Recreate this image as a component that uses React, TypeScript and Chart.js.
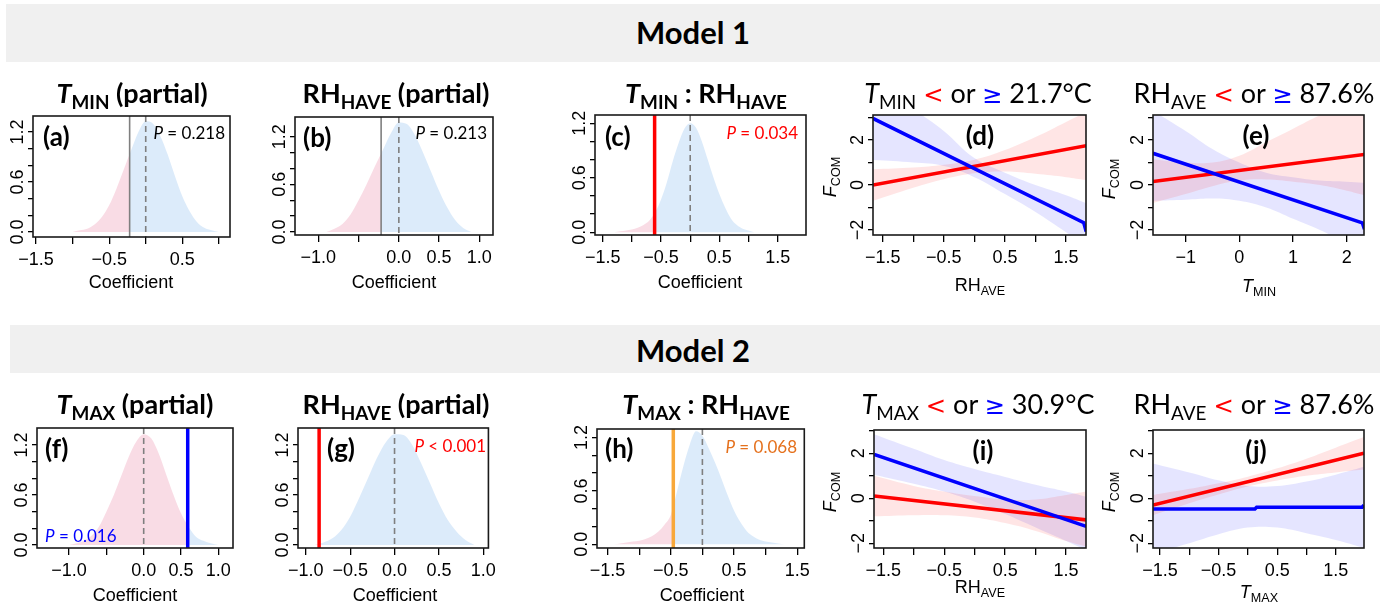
import React, { useEffect, useRef } from 'react';
import { Chart, registerables } from 'chart.js';
Chart.register(...registerables);

const AX_FONT = "'Liberation Sans', Arial, sans-serif";
const CAL = "Lato, 'Open Sans', sans-serif";
const K_CAL = 0.887;
const K_AX = 0.847;

const PINK = '#F9DCE5';
const SKY = '#DCEBFA';
const RED = '#FF0000';
const BLUE = '#0000FF';
const ORANGE_LINE = '#F8A83A';
const ORANGE_TEXT = '#E5711D';
const GREY_LINE = '#7F7F7F';
const BAND_RED = 'rgba(255,0,0,0.10)';
const BAND_BLUE = 'rgba(0,0,255,0.10)';
const CLEAR = 'rgba(0,0,0,0)';

// ---------- shared ticks ----------
const densYTicks = [0, 0.2, 0.4, 0.6, 0.8, 1.0, 1.2];
const densYLabels = ['0.0', '', '', '0.6', '', '', '1.2'];
const fcomYTicks = [-2, -1, 0, 1, 2, 3];
const fcomYLabels = ['−2', '', '0', '', '2', ''];

// ---------- (a) T_MIN partial ----------
const aX = [-1.0, -0.9, -0.8, -0.7, -0.6, -0.5, -0.4, -0.3, -0.2, -0.1, 0.0, 0.1, 0.2, 0.3, 0.4, 0.5, 0.6, 0.7, 0.8, 0.9, 1.0];
const aY = [0.0, 0.02, 0.04, 0.09, 0.18, 0.32, 0.52, 0.75, 0.98, 1.2, 1.33, 1.3, 1.15, 0.93, 0.67, 0.43, 0.25, 0.12, 0.05, 0.02, 0.0];
const aObs = -0.22;
const aXTicks = [-1.5, -1.0, -0.5, 0.0, 0.5, 1.0];
const aXLabels = ['−1.5', '', '−0.5', '', '0.5', ''];

// ---------- (b) RH_HAVE partial ----------
const bX = [-0.9, -0.8, -0.7, -0.6, -0.5, -0.4, -0.3, -0.2, -0.1, 0.0, 0.1, 0.2, 0.3, 0.4, 0.5, 0.6, 0.7, 0.8, 0.9];
const bY = [0.0, 0.04, 0.1, 0.22, 0.4, 0.6, 0.82, 1.03, 1.24, 1.38, 1.36, 1.22, 1.0, 0.76, 0.52, 0.31, 0.15, 0.05, 0.0];
const bObs = -0.22;
const bXTicks = [-1.0, -0.5, 0.0, 0.5, 1.0];
const bXLabels = ['−1.0', '', '0.0', '0.5', '1.0'];

// ---------- (c) T_MIN : RH_HAVE ----------
const cX = [-1.3, -1.2, -1.1, -1.0, -0.9, -0.8, -0.7, -0.6, -0.5, -0.4, -0.3, -0.2, -0.1, 0.0, 0.1, 0.2, 0.3, 0.4, 0.5, 0.6, 0.7, 0.8, 0.9, 1.0, 1.1];
const cY = [0.0, 0.01, 0.02, 0.03, 0.05, 0.08, 0.13, 0.22, 0.36, 0.55, 0.78, 0.98, 1.14, 1.2, 1.15, 1.0, 0.8, 0.6, 0.42, 0.27, 0.15, 0.08, 0.04, 0.02, 0.0];
const cObs = -0.61;
const cXTicks = [-1.5, -1.0, -0.5, 0.0, 0.5, 1.0, 1.5];
const cXLabels = ['−1.5', '', '−0.5', '', '0.5', '', '1.5'];

// ---------- (d) T_MIN split, x = RH_AVE ----------
const dBandX = [-1.66, -1.0, -0.5, 0.0, 0.5, 1.0, 1.5, 1.83];
const dBlueHi = [4.8, 3.4, 2.4, 1.2, 0.55, 0.0, -0.45, -0.8];
const dBlueLo = [1.11, 1.0, 0.85, 0.35, -0.4, -1.2, -2.1, -2.7];
const dRedHi = [0.7, 0.78, 0.9, 1.12, 1.55, 2.13, 2.8, 3.25];
const dRedLo = [-0.7, -0.12, 0.26, 0.52, 0.6, 0.5, 0.35, 0.22];
const dBlueX = [-1.66, 1.79, 1.83];
const dBlueY = [2.96, -1.68, -2.07];
const dRedX = [-1.66, 1.83];
const dRedY = [0.0, 1.75];
const dXTicks = [-1.5, -1.0, -0.5, 0.0, 0.5, 1.0, 1.5];
const dXLabels = ['−1.5', '', '−0.5', '', '0.5', '', '1.5'];

// ---------- (e) RH_AVE split, x = T_MIN ----------
const eBandX = [-1.61, -1.0, -0.5, 0.0, 0.5, 1.0, 1.5, 2.0, 2.33];
const eBlueHi = [3.3, 2.4, 1.6, 1.0, 0.55, 0.35, 0.2, 0.15, 0.1];
const eBlueLo = [-0.7, -0.65, -0.6, -0.7, -1.0, -1.5, -2.0, -2.6, -3.0];
const eRedHi = [1.15, 1.0, 1.0, 1.3, 1.9, 2.5, 3.1, 3.6, 3.9];
const eRedLo = [-0.8, -0.4, -0.05, 0.2, 0.25, 0.15, 0.0, -0.25, -0.45];
const eBlueX = [-1.61, 2.29, 2.33];
const eBlueY = [1.41, -1.68, -1.96];
const eRedX = [-1.61, 2.33];
const eRedY = [0.15, 1.36];
const eXTicks = [-1, 0, 1, 2];
const eXLabels = ['−1', '0', '1', '2'];

// ---------- (f) T_MAX partial ----------
const fX = [-1.0, -0.9, -0.8, -0.7, -0.6, -0.5, -0.4, -0.3, -0.2, -0.1, 0.0, 0.1, 0.2, 0.3, 0.4, 0.5, 0.6, 0.7, 0.8, 0.9, 1.0];
const fY = [0.0, 0.02, 0.05, 0.11, 0.22, 0.4, 0.6, 0.83, 1.06, 1.24, 1.33, 1.28, 1.1, 0.85, 0.6, 0.38, 0.22, 0.1, 0.05, 0.02, 0.0];
const fObs = 0.59;
const fXTicks = [-1.0, -0.5, 0.0, 0.5, 1.0];
const fXLabels = ['−1.0', '', '0.0', '0.5', '1.0'];

// ---------- (g) RH_HAVE partial ----------
const gX = [-0.9, -0.8, -0.7, -0.6, -0.5, -0.4, -0.3, -0.2, -0.1, 0.0, 0.1, 0.2, 0.3, 0.4, 0.5, 0.6, 0.7, 0.8, 0.9];
const gY = [0.0, 0.03, 0.08, 0.18, 0.34, 0.56, 0.8, 1.04, 1.23, 1.33, 1.32, 1.2, 0.98, 0.74, 0.5, 0.3, 0.16, 0.06, 0.0];
const gObs = -0.85;
const gXTicks = [-1.0, -0.5, 0.0, 0.5, 1.0];
const gXLabels = ['−1.0', '−0.5', '0.0', '0.5', '1.0'];

// ---------- (h) T_MAX : RH_HAVE ----------
const hX = [-1.4, -1.3, -1.2, -1.1, -1.0, -0.9, -0.8, -0.7, -0.6, -0.5, -0.4, -0.3, -0.2, -0.1, 0.0, 0.1, 0.2, 0.3, 0.4, 0.5, 0.6, 0.7, 0.8, 0.9, 1.0, 1.1, 1.2, 1.3];
const hY = [0.0, 0.01, 0.02, 0.03, 0.04, 0.06, 0.09, 0.14, 0.22, 0.33, 0.6, 0.88, 1.12, 1.27, 1.22, 1.08, 0.92, 0.74, 0.55, 0.38, 0.25, 0.15, 0.09, 0.05, 0.03, 0.02, 0.01, 0.0];
const hObs = -0.46;
const hXTicks = [-1.5, -1.0, -0.5, 0.0, 0.5, 1.0, 1.5];
const hXLabels = ['−1.5', '', '−0.5', '', '0.5', '', '1.5'];

// ---------- (i) T_MAX split, x = RH_AVE ----------
const iBandX = [-1.65, -1.0, -0.5, 0.0, 0.5, 1.0, 1.5, 1.83];
const iBlueHi = [2.85, 2.2, 1.7, 1.3, 0.95, 0.6, 0.3, 0.07];
const iBlueLo = [1.05, 0.65, 0.3, -0.15, -0.7, -1.3, -1.9, -2.3];
const iRedHi = [1.0, 0.55, 0.3, 0.1, -0.05, -0.05, 0.15, 0.3];
const iRedLo = [-0.8, -0.75, -0.75, -0.85, -1.1, -1.45, -1.9, -2.15];
const iBlueX = [-1.65, 1.83];
const iBlueY = [1.95, -1.25];
const iRedX = [-1.65, 1.83];
const iRedY = [0.1, -0.96];
const iXTicks = [-1.5, -1.0, -0.5, 0.0, 0.5, 1.0, 1.5];
const iXLabels = ['−1.5', '', '−0.5', '', '0.5', '', '1.5'];

// ---------- (j) RH_AVE split, x = T_MAX ----------
const jBandX = [-1.62, -1.0, -0.5, 0.0, 0.5, 1.0, 1.5, 1.98];
const jBlueHi = [1.55, 1.15, 0.8, 0.55, 0.55, 0.75, 1.05, 1.4];
const jBlueLo = [-2.45, -2.0, -1.6, -1.3, -1.3, -1.55, -1.85, -2.2];
const jRedHi = [0.15, 0.42, 0.67, 0.96, 1.33, 1.76, 2.25, 2.72];
const jRedLo = [-0.75, -0.22, 0.17, 0.52, 0.79, 1.0, 1.15, 1.28];
const jBlueX = [-1.62, 0.12, 0.15, 1.95, 1.98];
const jBlueY = [-0.48, -0.48, -0.4, -0.4, -0.3];
const jRedX = [-1.62, 1.98];
const jRedY = [-0.3, 2.0];
const jXTicks = [-1.5, -1.0, -0.5, 0.0, 0.5, 1.0, 1.5];
const jXLabels = ['−1.5', '', '−0.5', '', '0.5', '', '1.5'];

// ---------- layout ----------
const LW = 44, RP = 8, TP = 8, BH = 40;

const PANELS: any[] = [
  { key: 'a', kind: 'dens', box: { l: 33, t: 116, r: 230, b: 237 }, xMin: -1.541, xMax: 1.152, yMin: -0.06, yMax: 1.392, xTicks: aXTicks, xLabels: aXLabels, densX: aX, densY: aY, obs: aObs, obsColor: GREY_LINE, obsWidth: 1.6 },
  { key: 'b', kind: 'dens', box: { l: 295, t: 117, r: 493, b: 235 }, xMin: -1.29, xMax: 1.17, yMin: -0.038, yMax: 1.448, xTicks: bXTicks, xLabels: bXLabels, densX: bX, densY: bY, obs: bObs, obsColor: GREY_LINE, obsWidth: 1.6 },
  { key: 'c', kind: 'dens', box: { l: 595, t: 115, r: 806, b: 235 }, xMin: -1.632, xMax: 1.985, yMin: -0.03, yMax: 1.291, xTicks: cXTicks, xLabels: cXLabels, densX: cX, densY: cY, obs: cObs, obsColor: RED, obsWidth: 3.5 },
  { key: 'd', kind: 'line', box: { l: 873, t: 115, r: 1086, b: 235 }, xMin: -1.659, xMax: 1.827, yMin: -2.222, yMax: 3.111, xTicks: dXTicks, xLabels: dXLabels, bandX: dBandX, blueHi: dBlueHi, blueLo: dBlueLo, redHi: dRedHi, redLo: dRedLo, blueX: dBlueX, blueY: dBlueY, redX: dRedX, redY: dRedY },
  { key: 'e', kind: 'line', box: { l: 1153, t: 115, r: 1364, b: 235 }, xMin: -1.608, xMax: 2.322, yMin: -2.222, yMax: 3.111, xTicks: eXTicks, xLabels: eXLabels, bandX: eBandX, blueHi: eBlueHi, blueLo: eBlueLo, redHi: eRedHi, redLo: eRedLo, blueX: eBlueX, blueY: eBlueY, redX: eRedX, redY: eRedY },
  { key: 'f', kind: 'dens', box: { l: 37, t: 428, r: 233, b: 548 }, xMin: -1.43, xMax: 1.197, yMin: -0.036, yMax: 1.404, xTicks: fXTicks, xLabels: fXLabels, densX: fX, densY: fY, obs: fObs, obsColor: BLUE, obsWidth: 3.5 },
  { key: 'g', kind: 'dens', box: { l: 298, t: 428, r: 493, b: 548 }, xMin: -1.088, xMax: 1.058, yMin: -0.036, yMax: 1.404, xTicks: gXTicks, xLabels: gXLabels, densX: gX, densY: gY, obs: gObs, obsColor: RED, obsWidth: 3.5 },
  { key: 'h', kind: 'dens', box: { l: 597, t: 429, r: 807, b: 548 }, xMin: -1.667, xMax: 1.612, yMin: -0.042, yMax: 1.296, xTicks: hXTicks, xLabels: hXLabels, densX: hX, densY: hY, obs: hObs, obsColor: ORANGE_LINE, obsWidth: 3.5 },
  { key: 'i', kind: 'line', box: { l: 874, t: 430, r: 1086, b: 548 }, xMin: -1.652, xMax: 1.827, yMin: -2.209, yMax: 3.035, xTicks: iXTicks, xLabels: iXLabels, bandX: iBandX, blueHi: iBlueHi, blueLo: iBlueLo, redHi: iRedHi, redLo: iRedLo, blueX: iBlueX, blueY: iBlueY, redX: iRedX, redY: iRedY },
  { key: 'j', kind: 'line', box: { l: 1153, t: 430, r: 1364, b: 548 }, xMin: -1.62, xMax: 1.983, yMin: -2.209, yMax: 3.035, xTicks: jXTicks, xLabels: jXLabels, bandX: jBandX, blueHi: jBlueHi, blueLo: jBlueLo, redHi: jRedHi, redLo: jRedLo, blueX: jBlueX, blueY: jBlueY, redX: jRedX, redY: jRedY },
];

function pts(xs: number[], ys: number[]) {
  return xs.map((x, i) => ({ x, y: ys[i] }));
}

function makeChart(canvas: HTMLCanvasElement, p: any) {
  const datasets: any[] = [];
  const yTicks = p.kind === 'dens' ? densYTicks : fcomYTicks;
  const yLabels = p.kind === 'dens' ? densYLabels : fcomYLabels;
  if (p.kind === 'dens') {
    datasets.push({
      data: pts(p.densX, p.densY),
      fill: 'origin',
      backgroundColor: (ctx: any) => {
        const ch = ctx.chart;
        const ca = ch.chartArea;
        if (!ca) return SKY;
        const px = ch.scales.x.getPixelForValue(p.obs);
        const t = Math.min(1, Math.max(0, (px - ca.left) / (ca.right - ca.left)));
        const g = ch.ctx.createLinearGradient(ca.left, 0, ca.right, 0);
        g.addColorStop(0, PINK);
        g.addColorStop(t, PINK);
        g.addColorStop(t, SKY);
        g.addColorStop(1, SKY);
        return g;
      },
      borderColor: CLEAR,
      borderWidth: 0,
      pointRadius: 0,
      cubicInterpolationMode: 'monotone',
    });
  } else {
    const band = { borderColor: CLEAR, borderWidth: 0, pointRadius: 0, tension: 0.4 };
    datasets.push(
      { ...band, data: pts(p.bandX, p.blueHi), fill: '+1', backgroundColor: BAND_BLUE, order: 4 },
      { ...band, data: pts(p.bandX, p.blueLo), fill: false, order: 4 },
      { ...band, data: pts(p.bandX, p.redHi), fill: '+1', backgroundColor: BAND_RED, order: 3 },
      { ...band, data: pts(p.bandX, p.redLo), fill: false, order: 3 },
      { data: pts(p.redX, p.redY), borderColor: RED, borderWidth: 3.5, pointRadius: 0, fill: false, order: 1 },
      { data: pts(p.blueX, p.blueY), borderColor: BLUE, borderWidth: 3.5, pointRadius: 0, fill: false, order: 0 },
    );
  }

  const deco = {
    id: 'deco',
    afterDatasetsDraw(chart: any) {
      if (p.kind !== 'dens') return;
      const ctx = chart.ctx;
      const ca = chart.chartArea;
      const xs = chart.scales.x;
      ctx.save();
      ctx.setLineDash([6, 4]);
      ctx.strokeStyle = GREY_LINE;
      ctx.lineWidth = 1.6;
      const z = xs.getPixelForValue(0);
      ctx.beginPath();
      ctx.moveTo(z, ca.top);
      ctx.lineTo(z, ca.bottom);
      ctx.stroke();
      ctx.setLineDash([]);
      const o = xs.getPixelForValue(p.obs);
      ctx.strokeStyle = p.obsColor;
      ctx.lineWidth = p.obsWidth;
      ctx.beginPath();
      ctx.moveTo(o, ca.top);
      ctx.lineTo(o, ca.bottom);
      ctx.stroke();
      ctx.restore();
    },
    afterDraw(chart: any) {
      const ctx = chart.ctx;
      const ca = chart.chartArea;
      ctx.save();
      ctx.strokeStyle = '#1a1a1a';
      ctx.lineWidth = 1.6;
      ctx.strokeRect(ca.left, ca.top, ca.right - ca.left, ca.bottom - ca.top);
      ctx.fillStyle = '#000';
      ctx.font = `18px ${AX_FONT}`;
      ctx.textAlign = 'center';
      ctx.textBaseline = 'alphabetic';
      yTicks.forEach((v: number, i: number) => {
        const lab = yLabels[i];
        if (!lab) return;
        const y = chart.scales.y.getPixelForValue(v);
        ctx.save();
        ctx.translate(ca.left - 10, y);
        ctx.rotate(-Math.PI / 2);
        ctx.fillText(lab, 0, 0);
        ctx.restore();
      });
      ctx.restore();
    },
  };

  return new Chart(canvas, {
    type: 'line',
    data: { datasets },
    options: {
      responsive: false,
      animation: false,
      devicePixelRatio: 1,
      layout: { padding: { left: 0, right: RP, top: TP, bottom: 0 } },
      plugins: { legend: { display: false }, tooltip: { enabled: false }, title: { display: false } },
      scales: {
        x: {
          type: 'linear',
          min: p.xMin,
          max: p.xMax,
          afterBuildTicks: (s: any) => { s.ticks = p.xTicks.map((v: number) => ({ value: v })); },
          afterFit: (s: any) => { s.height = BH; },
          ticks: {
            autoSkip: false, maxRotation: 0, minRotation: 0, padding: 5, color: '#000',
            font: { family: AX_FONT, size: 18 },
            callback: (_v: any, i: number) => p.xLabels[i],
          },
          grid: { drawOnChartArea: false, drawTicks: true, tickLength: 7, color: '#000', lineWidth: 1.3 },
          border: { display: false },
        },
        y: {
          type: 'linear',
          min: p.yMin,
          max: p.yMax,
          afterBuildTicks: (s: any) => { s.ticks = yTicks.map((v: number) => ({ value: v })); },
          afterFit: (s: any) => { s.width = LW; },
          ticks: { callback: () => '', padding: 0 },
          grid: { drawOnChartArea: false, drawTicks: true, tickLength: 5, color: '#000', lineWidth: 1.3 },
          border: { display: false },
        },
      },
    } as any,
    plugins: [deco as any],
  });
}

function Panel({ p }: { p: any }) {
  const ref = useRef<HTMLCanvasElement>(null);
  const W = p.box.r - p.box.l + LW + RP;
  const H = p.box.b - p.box.t + TP + BH;
  useEffect(() => {
    if (!ref.current) return;
    const ch = makeChart(ref.current, p);
    return () => ch.destroy();
  }, []);
  return (
    <canvas
      ref={ref}
      width={W}
      height={H}
      style={{ position: 'absolute', left: p.box.l - LW, top: p.box.t - TP, width: W, height: H }}
    />
  );
}

const Sub = ({ children }: any) => (
  <span style={{ fontSize: '0.7em', verticalAlign: '-0.3em' }}>{children}</span>
);

// text positioned by baseline
function TB({ x, y, size, font = CAL, k = K_CAL, weight = 400, color = '#000', align = 'center', children }: any) {
  const tx = align === 'center' ? '-50%' : align === 'right' ? '-100%' : '0';
  return (
    <div style={{ position: 'absolute', left: x, top: y - k * size, fontSize: size, fontFamily: font, fontWeight: weight, color, lineHeight: 1, whiteSpace: 'nowrap', transform: `translateX(${tx})` }}>
      {children}
    </div>
  );
}

// text positioned by its centre
function TC({ x, y, size, font = CAL, weight = 400, color = '#000', rotate = 0, align = 'center', children }: any) {
  const tx = align === 'center' ? '-50%' : align === 'right' ? '-100%' : '0';
  return (
    <div style={{ position: 'absolute', left: x, top: y, fontSize: size, fontFamily: font, fontWeight: weight, color, lineHeight: 1, whiteSpace: 'nowrap', transform: `translate(${tx},-50%) rotate(${rotate}deg)` }}>
      {children}
    </div>
  );
}

const SYM = "'DejaVu Sans', 'Noto Sans', sans-serif";
const Lt = () => <span style={{ color: RED, fontFamily: SYM, fontSize: '0.9em' }}>&lt;</span>;
const Ge = () => <span style={{ color: BLUE, fontFamily: SYM, fontSize: '0.9em' }}>≥</span>;
const FCom = () => <><i>F</i><Sub>COM</Sub></>;

export default function App() {
  const ts = 27;
  const ls = 26;
  const ps = 17;
  return (
    <div style={{ position: 'absolute', left: 0, top: 0, width: 1386, height: 609, background: '#fff', overflow: 'hidden' }}>
      <div style={{ position: 'absolute', left: 6, top: 4, width: 1374, height: 58, background: '#F0F0F0' }} />
      <div style={{ position: 'absolute', left: 10, top: 325, width: 1370, height: 48, background: '#F0F0F0' }} />
      <TB x={693} y={44} size={31} weight={700}>Model 1</TB>
      <TB x={693} y={362} size={31} weight={700}>Model 2</TB>

      {PANELS.map((p) => <Panel key={p.key} p={p} />)}

      {/* titles row 1 */}
      <TB x={132} y={103} size={ts} weight={700}><i>T</i><Sub>MIN</Sub> (partial)</TB>
      <TB x={396} y={103} size={ts} weight={700}>RH<Sub>HAVE</Sub> (partial)</TB>
      <TB x={706} y={103} size={ts} weight={700}><i>T</i><Sub>MIN</Sub> : RH<Sub>HAVE</Sub></TB>
      <TB x={978} y={103} size={ts}><i>T</i><Sub>MIN</Sub> <Lt /> or <Ge /> 21.7°C</TB>
      <TB x={1254} y={103} size={ts}>RH<Sub>AVE</Sub> <Lt /> or <Ge /> 87.6%</TB>

      {/* titles row 2 */}
      <TB x={135} y={414} size={ts} weight={700}><i>T</i><Sub>MAX</Sub> (partial)</TB>
      <TB x={396} y={414} size={ts} weight={700}>RH<Sub>HAVE</Sub> (partial)</TB>
      <TB x={706} y={414} size={ts} weight={700}><i>T</i><Sub>MAX</Sub> : RH<Sub>HAVE</Sub></TB>
      <TB x={978} y={414} size={ts}><i>T</i><Sub>MAX</Sub> <Lt /> or <Ge /> 30.9°C</TB>
      <TB x={1254} y={414} size={ts}>RH<Sub>AVE</Sub> <Lt /> or <Ge /> 87.6%</TB>

      {/* panel letters */}
      <TC x={43} y={136} size={ls} weight={700} align="left">(a)</TC>
      <TC x={303} y={137} size={ls} weight={700} align="left">(b)</TC>
      <TC x={605} y={136} size={ls} weight={700} align="left">(c)</TC>
      <TC x={980} y={135} size={ls} weight={700}>(d)</TC>
      <TC x={1256} y={135} size={ls} weight={700}>(e)</TC>
      <TC x={45} y={448} size={ls} weight={700} align="left">(f)</TC>
      <TC x={327} y={448} size={ls} weight={700} align="left">(g)</TC>
      <TC x={605} y={448} size={ls} weight={700} align="left">(h)</TC>
      <TC x={983} y={450} size={ls} weight={700}>(i)</TC>
      <TC x={1256} y={450} size={ls} weight={700}>(j)</TC>

      {/* P values */}
      <TC x={225} y={132} size={ps} align="right"><i>P</i> = 0.218</TC>
      <TC x={487} y={132} size={ps} align="right"><i>P</i> = 0.213</TC>
      <TC x={798} y={132} size={ps} align="right" color={RED}><i>P</i> = 0.034</TC>
      <TC x={45} y={535} size={ps} align="left" color={BLUE}><i>P</i> = 0.016</TC>
      <TC x={486} y={445} size={ps} align="right" color={RED}><i>P</i> &lt; 0.001</TC>
      <TC x={797} y={446} size={ps} align="right" color={ORANGE_TEXT}><i>P</i> = 0.068</TC>

      {/* x axis titles */}
      <TB x={131} y={288} size={18} font={AX_FONT} k={K_AX}>Coefficient</TB>
      <TB x={394} y={288} size={18} font={AX_FONT} k={K_AX}>Coefficient</TB>
      <TB x={700} y={288} size={18} font={AX_FONT} k={K_AX}>Coefficient</TB>
      <TB x={980} y={291} size={18} font={AX_FONT} k={K_AX}>RH<Sub>AVE</Sub></TB>
      <TB x={1259} y={292} size={18} font={AX_FONT} k={K_AX}><i>T</i><Sub>MIN</Sub></TB>
      <TB x={135} y={601} size={18} font={AX_FONT} k={K_AX}>Coefficient</TB>
      <TB x={395} y={601} size={18} font={AX_FONT} k={K_AX}>Coefficient</TB>
      <TB x={702} y={601} size={18} font={AX_FONT} k={K_AX}>Coefficient</TB>
      <TB x={980} y={593} size={18} font={AX_FONT} k={K_AX}>RH<Sub>AVE</Sub></TB>
      <TB x={1259} y={598} size={18} font={AX_FONT} k={K_AX}><i>T</i><Sub>MAX</Sub></TB>

      {/* y axis titles */}
      <TC x={832} y={177} size={18} font={AX_FONT} rotate={-90}><FCom /></TC>
      <TC x={1111} y={179} size={18} font={AX_FONT} rotate={-90}><FCom /></TC>
      <TC x={832} y={492} size={18} font={AX_FONT} rotate={-90}><FCom /></TC>
      <TC x={1111} y={492} size={18} font={AX_FONT} rotate={-90}><FCom /></TC>
    </div>
  );
}
